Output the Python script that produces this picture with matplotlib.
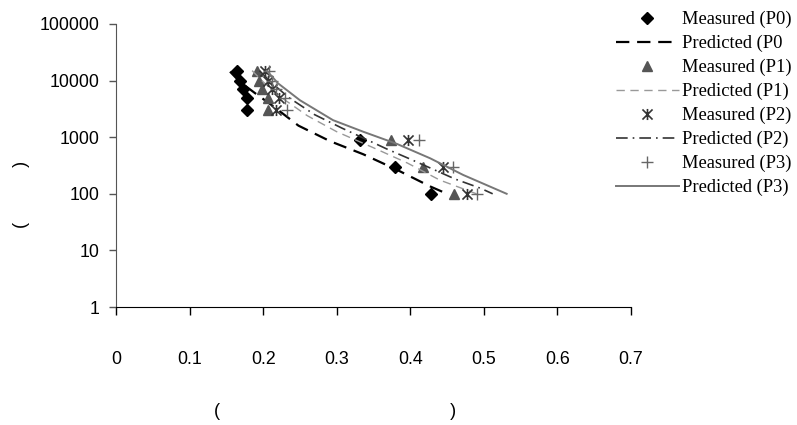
import matplotlib
matplotlib.use('agg')
import matplotlib.pyplot as plt
from matplotlib.path import Path
from matplotlib.ticker import FixedLocator, FixedFormatter, NullLocator

# measured points (x, y) for each group
meas_y = [15000, 10000, 7000, 5000, 3000, 900, 300, 100]
meas_x_p0 = [0.165, 0.168, 0.172, 0.178, 0.178, 0.332, 0.379, 0.428]
meas_x_p1 = [0.191, 0.194, 0.198, 0.207, 0.207, 0.374, 0.417, 0.459]
meas_x_p2 = [0.203, 0.207, 0.212, 0.222, 0.218, 0.397, 0.444, 0.477]
meas_x_p3 = [0.208, 0.212, 0.218, 0.230, 0.232, 0.412, 0.458, 0.491]

# predicted curves
pred_x_p0 = [0.155, 0.168, 0.189, 0.214, 0.248, 0.291, 0.336, 0.382, 0.427, 0.45]
pred_y_p0 = [14400, 9600, 6000, 3500, 1600, 850, 500, 265, 135, 100]
pred_x_p1 = [0.185, 0.2, 0.225, 0.26, 0.30, 0.35, 0.396, 0.44, 0.49]
pred_y_p1 = [15000, 9500, 5000, 2400, 1250, 650, 350, 175, 100]
pred_x_p2 = [0.195, 0.21, 0.235, 0.27, 0.307, 0.368, 0.40, 0.461, 0.495, 0.512]
pred_y_p2 = [15000, 9500, 5000, 2500, 1450, 620, 410, 182, 126, 100]
pred_x_p3 = [0.205, 0.22, 0.25, 0.295, 0.336, 0.382, 0.427, 0.472, 0.531]
pred_y_p3 = [15000, 9000, 4500, 2000, 1250, 760, 424, 215, 100]

y_ticks = [1, 10, 100, 1000, 10000, 100000]
y_tick_labels = ['1', '10', '100', '1000', '10000', '100000']
x_ticks = [0, 0.1, 0.2, 0.3, 0.4, 0.5, 0.6, 0.7]
x_tick_labels = ['0', '0.1', '0.2', '0.3', '0.4', '0.5', '0.6', '0.7']

# excel style star: an x with a vertical bar through it
star = Path([(-1, -1), (1, 1), (-1, 1), (1, -1), (0, -1.1), (0, 1.1)],
            [Path.MOVETO, Path.LINETO, Path.MOVETO, Path.LINETO, Path.MOVETO, Path.LINETO])

fig = plt.figure(figsize=(7.97, 4.25), dpi=100)
ax = fig.add_axes([116 / 797, 1 - 307 / 425, (631 - 116) / 797, (307 - 24) / 425])

h = []
h += ax.plot(meas_x_p0, meas_y, 'D', color='black', ms=6.5, label='Measured (P0)')
h += ax.plot(pred_x_p0, pred_y_p0, color='black', lw=1.6, dashes=(6, 3.5), label='Predicted (P0')
h += ax.plot(meas_x_p1, meas_y, '^', color='#555555', ms=7.5, label='Measured (P1)')
h += ax.plot(pred_x_p1, pred_y_p1, color='#999999', lw=1.0, dashes=(6, 4), label='Predicted (P1)')
h += ax.plot(meas_x_p2, meas_y, ls='none', marker=star, color='#333333', ms=8, mew=1.2,
             label='Measured (P2)')
h += ax.plot(pred_x_p2, pred_y_p2, color='#333333', lw=1.2, dashes=(7, 3, 1, 3), label='Predicted (P2)')
h += ax.plot(meas_x_p3, meas_y, '+', color='#666666', ms=9, mew=1.0, label='Measured (P3)')
h += ax.plot(pred_x_p3, pred_y_p3, color='#777777', lw=1.4, label='Predicted (P3)')

ax.set_yscale('log')
ax.set_ylim(1, 100000)
ax.set_xlim(0, 0.7)
ax.yaxis.set_major_locator(FixedLocator(y_ticks))
ax.yaxis.set_major_formatter(FixedFormatter(y_tick_labels))
ax.yaxis.set_minor_locator(NullLocator())
ax.xaxis.set_major_locator(FixedLocator(x_ticks))
ax.xaxis.set_major_formatter(FixedFormatter(x_tick_labels))

ax.spines['top'].set_visible(False)
ax.spines['right'].set_visible(False)
ax.spines['left'].set_color('#555555')
ax.spines['bottom'].set_color('black')
ax.tick_params(axis='y', length=5, width=1, color='#555555', pad=7,
               labelsize=12.8, labelfontfamily='Liberation Sans')
ax.tick_params(axis='x', length=6, width=1, color='black', pad=26,
               labelsize=12.8, labelfontfamily='Liberation Sans')

fig.text(335 / 797, 1 - 411 / 425, '(' + ' ' * 46 + ')', ha='center', va='center',
         fontsize=13, family='Liberation Sans')
fig.text(22 / 797, 1 - 194 / 425, '(' + ' ' * 11 + ')', ha='center', va='center',
         rotation=90, fontsize=13, family='Liberation Sans')

fig.legend(handles=h, loc='upper left', bbox_to_anchor=(616 / 797, 1 - 11 / 425),
           frameon=False, borderpad=0, borderaxespad=0, handlelength=3.4,
           handletextpad=0.2, labelspacing=0.36,
           prop={'family': 'Liberation Serif', 'size': 13.3})

fig.savefig('out.png', dpi=100)
